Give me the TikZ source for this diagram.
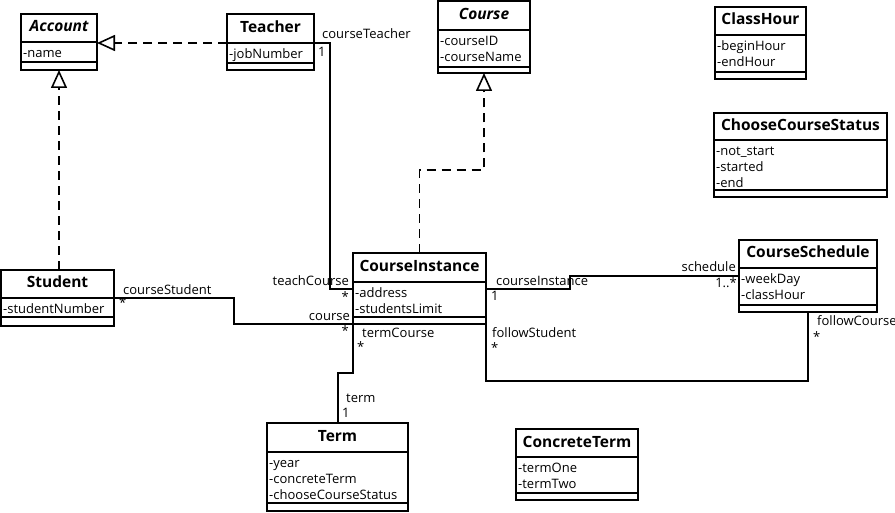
\documentclass[tikz,border=0pt]{standalone}
\usepackage{fontspec}
\setmainfont{Open Sans}
\usetikzlibrary{arrows.meta}
\tikzset{
  x=1pt, y=-1pt,
  umlbox/.style={draw, line width=1.6pt, inner sep=0pt, outer sep=0pt, anchor=north west},
  sepline/.style={line width=1.6pt},
  classtitle/.style={font=\fontsize{15.5}{17}\selectfont\bfseries, inner sep=0pt, text height=11pt, text depth=3pt},
  attr/.style={font=\fontsize{13}{15}\selectfont, inner sep=0pt, anchor=base west},
  lbl/.style={font=\fontsize{13}{15}\selectfont, inner sep=0pt, text height=9.5pt, text depth=3pt},
  assoc/.style={line width=1.6pt},
  realize/.style={line width=1.6pt, dash pattern=on 9pt off 6pt,
    -{Triangle[open, length=18pt, width=16pt, line width=1.6pt]}},
}
\newcommand{\umlclass}[9]{%
  \pgfmathsetmacro\cw{#4-#2}\pgfmathsetmacro\chh{#5-#3}%
  \pgfmathsetmacro\tx{(#2+#4)/2}\pgfmathsetmacro\ty{(#3+#6)/2}%
  \node[umlbox, minimum width=\cw pt, minimum height=\chh pt] (#1) at (#2,#3) {};
  \coordinate (#1-h) at (#2,#6);
  \coordinate (#1-a) at (#2,#7);
  \draw[sepline] (#1-h) -- (#1-h -| #1.east);
  \draw[sepline] (#1-a) -- (#1-a -| #1.east);
  \node[classtitle] (#1-t) at (\tx,\ty) {#8};
  \foreach \at [count=\i] in {#9} {
    \node[attr] (#1-at\i) at (#2+2, #6+15.5+16*\i-16) {\at};
  }%
}
\begin{document}
\begin{tikzpicture}
\useasboundingbox (0,0) rectangle (895,513);
% classes
\umlclass{Account}{21}{14}{97}{70}{42}{62}{\itshape Account}{-name}
\umlclass{Teacher}{227}{14}{314}{70}{43}{63}{Teacher}{-jobNumber}
\umlclass{Course}{438}{1}{530}{73}{30}{67}{\itshape Course}{-courseID,-courseName}
\umlclass{ClassHour}{715}{7}{806}{79}{35}{72}{ClassHour}{-beginHour,-endHour}
\umlclass{CCS}{714}{113}{887}{197}{140}{190}{ChooseCourseStatus}{-not\_start,-started,-end}
\umlclass{Student}{1}{270}{114}{326}{298}{317}{Student}{-studentNumber}
\umlclass{CI}{353}{253}{486}{324}{282}{317}{CourseInstance}{-address,-studentsLimit}
\umlclass{CS}{739}{240}{877}{312}{268}{305}{CourseSchedule}{-weekDay,-classHour}
\umlclass{Term}{267}{423}{408}{511}{452}{503}{Term}{-year,-concreteTerm,-chooseCourseStatus}
\umlclass{CT}{516}{429}{638}{500}{457}{493}{ConcreteTerm}{-termOne,-termTwo}
% bend points
\coordinate (tcb) at (330,289);
\coordinate (scb) at (234,0);
\coordinate (tb) at (338,373);
\coordinate (csb) at (570,276);
\coordinate (fb) at (0,381);
\coordinate (ciup) at (0,170);
% generalizations
\draw[realize] (Teacher-h) -- (Teacher-h -| Account.east);
\draw[realize] (Student.north -| Account.south) -- (Account.south);
\draw[realize] (CI.north) |- (ciup -| Course.south) -- (Course.south);
% associations
\draw[assoc] (Teacher-h -| Teacher.east) -| (tcb) -- (tcb -| CI.west);
\draw[assoc] (Student-h -| Student.east) -| (scb |- CI.south west) -- (CI.south west);
\draw[assoc] (CI.south west) |- (tb) -- (tb |- Term.north);
\draw[assoc] (CI.east |- tcb) -| (csb) -- (csb -| CS.west);
\draw[assoc] (CI.south east) |- (fb -| CS.south) -- (CS.south);
% labels
\node[lbl, anchor=west] (l1) at (322,35) {courseTeacher};
\node[lbl, anchor=west] (l2) at (318,53) {1};
\node[lbl, anchor=east] (l3) at (349,282) {teachCourse};
\node[lbl, anchor=east] (l4) at (349,298) {*};
\node[lbl, anchor=west] (l5) at (123,291) {courseStudent};
\node[lbl, anchor=west] (l6) at (119,304) {*};
\node[lbl, anchor=east] (l7) at (350,317) {course};
\node[lbl, anchor=east] (l8) at (349,332) {*};
\node[lbl, anchor=west] (l9) at (362,334) {termCourse};
\node[lbl, anchor=west] (l10) at (357,348) {*};
\node[lbl, anchor=west] (l11) at (346,399) {term};
\node[lbl, anchor=west] (l12) at (342,414) {1};
\node[lbl, anchor=west] (l13) at (496,282) {courseInstance};
\node[lbl, anchor=west] (l14) at (491,297) {1};
\node[lbl, anchor=east] (l15) at (736,268) {schedule};
\node[lbl, anchor=east] (l16) at (737,284) {1..*};
\node[lbl, anchor=west] (l17) at (492,334) {followStudent};
\node[lbl, anchor=west] (l18) at (491,349) {*};
\node[lbl, anchor=west] (l19) at (817,322) {followCourse};
\node[lbl, anchor=west] (l20) at (813,338) {*};
\end{tikzpicture}
\end{document}
